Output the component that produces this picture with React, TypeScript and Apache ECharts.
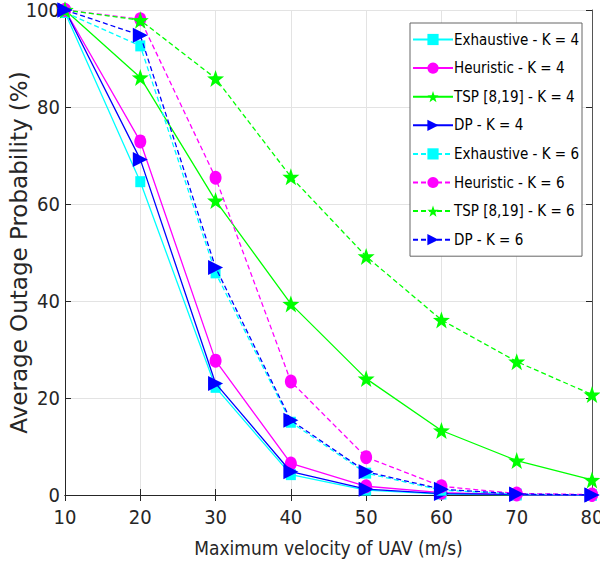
import React, { useEffect, useRef } from "react";
import * as echarts from "echarts";

const velocities = [10, 20, 30, 40, 50, 60, 70, 80];
const yTicks = [0, 20, 40, 60, 80, 100];

const exhaustiveK4 = [99.5, 64.6, 22.2, 4.2, 1.0, 0.2, 0.0, 0.0];
const heuristicK4 = [100, 72.9, 27.7, 6.5, 1.8, 0.5, 0.1, 0.0];
const tspK4 = [100, 86.1, 60.7, 39.4, 24.0, 13.3, 7.1, 3.1];
const dpK4 = [100, 69.2, 23.0, 4.8, 1.2, 0.3, 0.1, 0.0];
const exhaustiveK6 = [99.5, 92.6, 45.8, 15.0, 4.5, 1.0, 0.2, 0.0];
const heuristicK6 = [100, 98.1, 65.4, 23.4, 7.8, 1.8, 0.3, 0.1];
const tspK6 = [100, 97.9, 85.9, 65.6, 49.2, 36.1, 27.5, 20.7];
const dpK6 = [100, 94.8, 46.9, 15.4, 4.8, 1.2, 0.2, 0.0];

const seriesNames = [
  "Exhaustive - K = 4",
  "Heuristic - K = 4",
  "TSP [8,19] - K = 4",
  "DP - K = 4",
  "Exhaustive - K = 6",
  "Heuristic - K = 6",
  "TSP [8,19] - K = 6",
  "DP - K = 6",
];

const STAR =
  "path://M0,-10 L2.35,-3.24 L9.51,-3.09 L3.8,1.24 L5.88,8.09 L0,4 L-5.88,8.09 L-3.8,1.24 L-9.51,-3.09 L-2.35,-3.24 Z";

export default function App() {
  const ref = useRef<HTMLDivElement>(null);

  useEffect(() => {
    if (!ref.current) return;
    const chart = echarts.init(ref.current, null, { renderer: "svg" });

    const datasets = [exhaustiveK4, heuristicK4, tspK4, dpK4, exhaustiveK6, heuristicK6, tspK6, dpK6];
    const colors = ["#00ffff", "#ff00ff", "#00ff00", "#0000ff"];
    const symbols: any[] = ["rect", "circle", STAR, "triangle"];
    const sizes: any[] = [[10, 11], [12, 14], [17, 17], [15, 15]];
    const rotates = [0, 0, 0, -90];

    const series = datasets.map((d, i) => {
      const k = i % 4;
      const dashed = i >= 4;
      return {
        name: seriesNames[i],
        type: "line",
        data: velocities.map((v, j) => [v, d[j]]),
        symbol: symbols[k],
        symbolSize: sizes[k],
        symbolRotate: rotates[k],
        showAllSymbol: true,
        color: colors[k],
        itemStyle: { color: colors[k] },
        lineStyle: {
          color: colors[k],
          width: 1.3,
          type: dashed ? [5, 3] : "solid",
        },
        emphasis: { disabled: true },
        z: 2 + i,
      };
    });

    const narrow = "'DejaVu Sans Condensed', 'Liberation Sans', sans-serif";

    chart.setOption({
      animation: false,
      backgroundColor: "#ffffff",
      grid: {
        left: 65,
        right: 8,
        top: 10,
        bottom: 81,
        containLabel: false,
        outerBoundsMode: "none",
      },
      legend: {
        orient: "vertical",
        right: 18,
        top: 23,
        backgroundColor: "#ffffff",
        borderColor: "#666666",
        borderWidth: 1,
        borderRadius: 0,
        padding: [9, 3, 9, 2],
        itemWidth: 40,
        itemHeight: 14,
        itemGap: 13.6,
        textStyle: { fontFamily: narrow, fontSize: 15, color: "#000000", padding: [0, 0, 0, -4] },
        data: seriesNames,
      },
      xAxis: [
        {
          type: "value",
          min: 10,
          max: 80,
          interval: 10,
          name: "Maximum velocity of UAV (m/s)",
          nameLocation: "middle",
          nameGap: 43,
          nameMoveOverlap: false,
          nameTextStyle: { fontFamily: narrow, fontSize: 19, color: "#262626" },
          axisLine: { show: true, lineStyle: { color: "#262626", width: 1 } },
          axisTick: { show: true, inside: true, length: 6, lineStyle: { color: "#262626" } },
          axisLabel: { fontFamily: narrow, fontSize: 20, color: "#262626", margin: 12 },
          splitLine: { show: true, lineStyle: { color: "#e3e3e3", width: 1 } },
        },
        {
          type: "value",
          position: "top",
          min: 10,
          max: 80,
          interval: 10,
          axisLine: { show: true, lineStyle: { color: "#262626", width: 1 } },
          axisTick: { show: true, inside: true, length: 6, lineStyle: { color: "#262626" } },
          axisLabel: { show: false },
          splitLine: { show: false },
        },
      ],
      yAxis: [
        {
          type: "value",
          min: 0,
          max: 100,
          interval: 20,
          name: "Average Outage Probability (%)",
          nameLocation: "middle",
          nameGap: 35,
          nameMoveOverlap: false,
          nameTextStyle: { fontFamily: "DejaVu Sans", fontSize: 23, color: "#262626" },
          axisLine: { show: true, lineStyle: { color: "#262626", width: 1 } },
          axisTick: { show: true, inside: true, length: 6, lineStyle: { color: "#262626" } },
          axisLabel: {
            fontFamily: narrow,
            fontSize: 20,
            lineHeight: 16,
            color: "#262626",
            margin: 5,
            formatter: (v: number) => (yTicks.includes(v) ? String(v) : ""),
          },
          splitLine: { show: true, lineStyle: { color: "#e3e3e3", width: 1 } },
        },
        {
          type: "value",
          position: "right",
          min: 0,
          max: 100,
          interval: 20,
          axisLine: { show: true, lineStyle: { color: "#555555", width: 1 } },
          axisTick: { show: true, inside: true, length: 6, lineStyle: { color: "#262626" } },
          axisLabel: { show: false },
          splitLine: { show: false },
        },
      ],
      series,
    });

    return () => chart.dispose();
  }, []);

  return (
    <div
      ref={ref}
      style={{ position: "fixed", left: 0, top: 0, width: 600, height: 576, background: "#fff" }}
    />
  );
}
